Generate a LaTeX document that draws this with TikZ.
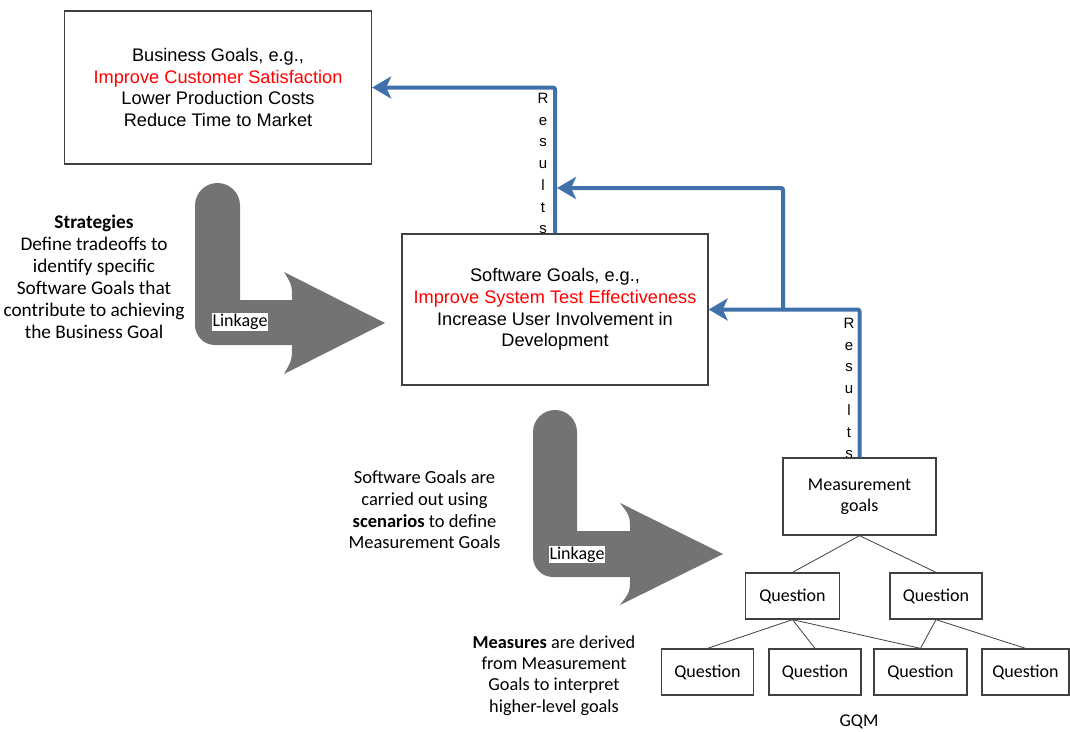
\documentclass[tikz,border=0pt]{standalone}
\usepackage{fontspec}
\setmainfont{Liberation Sans}
\newfontfamily\calibri{Carlito}
\usetikzlibrary{arrows.meta}

\definecolor{resblue}{RGB}{65,113,170}
\definecolor{linkgray}{RGB}{115,115,115}
\definecolor{boxline}{RGB}{64,64,64}
\definecolor{goalred}{RGB}{255,0,0}

\begin{document}
\begin{tikzpicture}[x=1pt,y=-1pt,
  goalbox/.style={draw=boxline, line width=1.3pt, fill=white, align=center,
    inner sep=0pt, font=\fontsize{18.2}{21.7}\selectfont},
  gqmbox/.style={draw=boxline, line width=1.3pt, fill=white, align=center,
    inner sep=0pt, minimum height=46pt, font=\calibri\fontsize{18}{21}\selectfont},
  note/.style={align=center, inner sep=0pt},
  results/.style={align=center, inner sep=0pt, anchor=north,
    font=\fontsize{15}{21.7}\selectfont},
  linklabel/.style={fill=white, inner sep=1pt, font=\calibri\fontsize{18}{21}\selectfont},
  resline/.style={draw=resblue, line width=4pt, rounded corners=2pt,
    -{Stealth[length=19pt,width=22pt,inset=5pt]}},
  treeline/.style={draw=boxline, line width=0.8pt}]

\useasboundingbox (0,0) rectangle (1070,731);
\fill[white] (0,0) rectangle (1070,731);

% vertical "Results" labels beside the feedback lines
\node[results] (res1) at (543,93) {R\\e\\s\\u\\l\\t\\s};
\node[results] (res2) at (849,318) {R\\e\\s\\u\\l\\t\\s};

% goal boxes
\node[goalbox, minimum width=307pt, minimum height=153pt] (bg) at (218,87.5)
  {Business Goals, e.g.,\\\textcolor{goalred}{Improve Customer Satisfaction}\\Lower Production Costs\\Reduce Time to Market};
\node[goalbox, minimum width=306pt, minimum height=151pt] (sg) at (555,309.5)
  {Software Goals, e.g.,\\\textcolor{goalred}{Improve System Test Effectiveness}\\Increase User Involvement in\\Development};

% GQM tree
\node[gqmbox, minimum width=153pt, minimum height=77pt] (mg) at (859.5,496.5) {Measurement\\goals};
\node[gqmbox, minimum width=94pt] (q1) at (792.5,596) {Question};
\node[gqmbox, minimum width=92pt] (q2) at (936,596) {Question};
\node[gqmbox, minimum width=92pt] (q3) at (707.5,672) {Question};
\node[gqmbox, minimum width=92pt] (q4) at (815,672) {Question};
\node[gqmbox, minimum width=93pt] (q5) at (920.5,672) {Question};
\node[gqmbox, minimum width=87pt] (q6) at (1025.5,672) {Question};
\node[note, font=\calibri\fontsize{18}{21}\selectfont] (gqm) at (859,722) {GQM};

\draw[treeline] (mg.south) -- (q1.north);
\draw[treeline] (mg.south) -- (q2.north);
\draw[treeline] (q1.south) -- (q3.north);
\draw[treeline] (q1.south) -- (q4.north);
\draw[treeline] (q1.south) -- (q5.north);
\draw[treeline] (q2.south) -- (q5.north);
\draw[treeline] (q2.south) -- (q6.north);

% feedback lines
\coordinate (j2) at (783,309.5);
\coordinate (r1) at (557,188);
\draw[resline] (sg.north) |- (bg.east);
\draw[resline] (j2) |- (r1);
\draw[resline] (mg.north) |- (sg.east);

% bent linkage arrows
\fill[linkgray] (240,300) -- (240,205.5) arc[start angle=0, end angle=-180, radius=22.5]
  -- (195,325) arc[start angle=180, end angle=90, radius=20]
  -- (292,345) .. controls (292,360) .. (284,374) -- (385,323)
  -- (284,272) .. controls (292,285) .. (292,300) -- cycle;
\node[linklabel] (lk1) at (240,322) {Linkage};

\fill[linkgray] (577,531) -- (577,432) arc[start angle=0, end angle=-180, radius=22]
  -- (533,557) arc[start angle=180, end angle=90, radius=20]
  -- (630,577) .. controls (630,592) .. (620,605) -- (723,554)
  -- (620,503) .. controls (630,516) .. (630,531) -- cycle;
\node[linklabel] (lk2) at (577,554.5) {Linkage};

% explanatory notes
\node[note, font=\calibri\fontsize{19.3}{22}\selectfont] (strat) at (94,277)
  {\textbf{Strategies}\\Define tradeoffs to\\identify specific\\Software Goals that\\contribute to achieving\\the Business Goal};
\node[note, font=\calibri\fontsize{18.5}{21.7}\selectfont] (scen) at (424.5,510)
  {Software Goals are\\carried out using\\\textbf{scenarios} to define\\Measurement Goals};
\node[note, font=\calibri\fontsize{18.3}{21.3}\selectfont] (meas) at (554,675.5)
  {\textbf{Measures} are derived\\from Measurement\\Goals to interpret\\higher-level goals};

\end{tikzpicture}
\end{document}
